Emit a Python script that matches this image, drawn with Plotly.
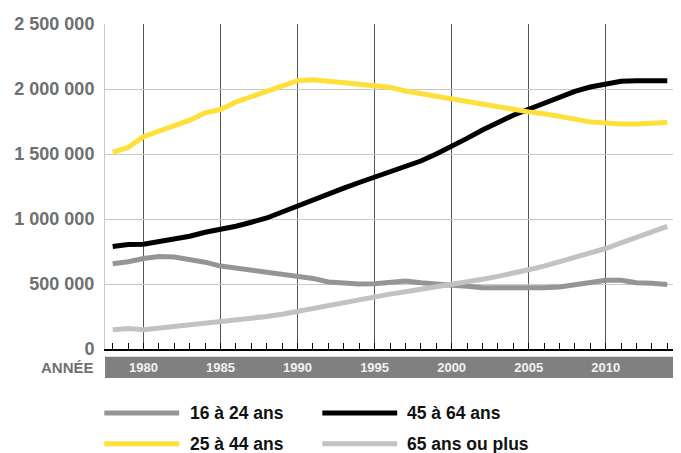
import plotly.graph_objects as go

years = list(range(1978, 2015))

age_16_24 = [656, 671, 696, 712, 707, 691, 668, 638, 622, 605, 592, 574, 561, 543, 515, 505, 500, 502, 513, 523,
             510, 497, 490, 482, 472, 472, 472, 464, 472, 477, 492, 510, 528, 528, 510, 505, 497]
age_25_44 = [1513, 1551, 1633, 1676, 1717, 1760, 1816, 1842, 1900, 1941, 1985, 2028, 2064, 2071, 2059, 2051, 2043,
             2031, 2013, 1985, 1964, 1946, 1921, 1900, 1880, 1862, 1844, 1824, 1809, 1793, 1768, 1747, 1735, 1730,
             1730, 1735, 1742]
age_45_64 = [788, 804, 806, 824, 847, 867, 898, 918, 944, 975, 1008, 1054, 1102, 1148, 1194, 1237, 1281, 1324, 1365,
             1400, 1446, 1500, 1556, 1620, 1684, 1742, 1798, 1844, 1893, 1939, 1982, 2015, 2041, 2059, 2064, 2064,
             2064]
age_65_plus = [148, 158, 148, 161, 171, 181, 191, 204, 217, 235, 250, 268, 291, 311, 332, 355, 380, 402, 422, 441,
               459, 480, 497, 515, 536, 559, 582, 610, 638, 671, 704, 740, 773, 816, 860, 900, 944]

series_names = ["16 à 24 ans", "25 à 44 ans", "45 à 64 ans", "65 ans ou plus"]
series_values = [age_16_24, age_25_44, age_45_64, age_65_plus]
series_colors = ["#959598", "#FFDF3A", "#000000", "#C2C2C2"]

y_ticks = [0, 500000, 1000000, 1500000, 2000000, 2500000]
x_label = "ANNÉE"

fig = go.Figure()
draw_order = [0, 3, 2, 1]
for i in draw_order:
    fig.add_trace(go.Scatter(
        x=years, y=[v * 1000 for v in series_values[i]], mode="lines",
        name=series_names[i], line=dict(color=series_colors[i], width=5),
        showlegend=False, hoverinfo="skip"))

# page offset of the figure (browser body margin)
OFF = 8
# plot area geometry in page px (for paper coordinate conversion)
L, R, T, B = 104, 675, 22, 349
W, H = R - L, B - T
def px(x):
    return (x - L) / W
def py(y):
    return (B - y) / H

fig_w, fig_h = 681 - OFF, 453 - OFF

shapes = [
    dict(type="rect", xref="paper", yref="paper", x0=0, x1=1, y0=py(378.3), y1=py(356.7),
         fillcolor="#808080", line=dict(width=0), layer="below"),
]
annotations = [
    dict(text=x_label, xref="paper", yref="paper", x=px(94.5), y=py(367.5), xanchor="right", yanchor="middle",
         showarrow=False, font=dict(family="Liberation Sans", size=15, color="#6f6f6f", weight="bold")),
]

legend_pos = [(103.3, 178.3, 186.7, 413.3), (103.3, 178.3, 186.7, 444.3),
              (321.7, 396.7, 405, 413.3), (321.7, 396.7, 405, 444.3)]
for i, (x0, x1, xt, yy) in enumerate(legend_pos):
    shapes.append(dict(type="line", xref="paper", yref="paper", x0=px(x0), x1=px(x1), y0=py(yy), y1=py(yy),
                       line=dict(color=series_colors[i], width=5)))
    annotations.append(dict(text=series_names[i], xref="paper", yref="paper", x=px(xt), y=py(yy),
                            xanchor="left", yanchor="middle", showarrow=False,
                            font=dict(family="Liberation Sans", size=17.5, color="#111111", weight="bold")))

fig.update_layout(
    width=fig_w, height=fig_h,
    margin=dict(l=L - OFF, r=681 - R, t=T - OFF, b=fig_h - (B - OFF), pad=0),
    paper_bgcolor="white", plot_bgcolor="white",
    separators=", ",
    shapes=shapes, annotations=annotations,
    showlegend=False,
)
fig.update_xaxes(
    range=[1977.5, 2014.5], tick0=1980, dtick=5,
    showgrid=True, gridcolor="#555555", gridwidth=1,
    showline=True, linecolor="black", linewidth=1.5,
    ticks="inside", ticklen=6, tickcolor="black", tickwidth=1,
    ticklabelstandoff=6,
    tickfont=dict(family="Liberation Sans", size=13, color="#f2f2f2", weight="bold"),
    minor=dict(dtick=1, tick0=1980, ticks="inside", ticklen=6, tickcolor="black", tickwidth=1, showgrid=False),
    zeroline=False, fixedrange=True,
)
fig.update_yaxes(
    range=[0, 2500000], tickvals=y_ticks, tickformat=",d",
    showgrid=True, gridcolor="#c8c8c8", gridwidth=1,
    showline=True, linecolor="#c8c8c8", linewidth=1,
    ticks="", ticklabelstandoff=6,
    tickfont=dict(family="Liberation Sans", size=18, color="#6f6f6f", weight="bold"),
    zeroline=False, fixedrange=True,
)

fig.write_html("out.html", config={"displayModeBar": False})
